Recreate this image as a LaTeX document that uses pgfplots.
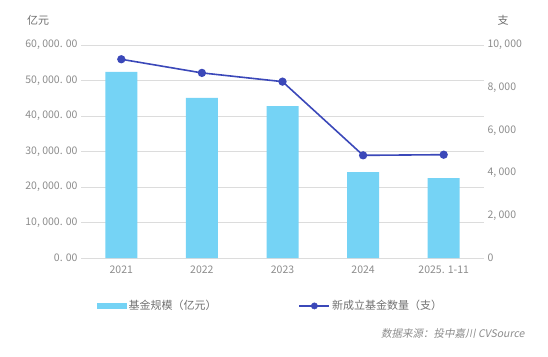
\documentclass[border=0pt]{standalone}
\usepackage{pgfplots}
\pgfplotsset{compat=1.18}
\usepackage{fontspec}
\setmainfont{Noto Sans CJK SC}
\newfontfamily\srcfont[FakeSlant=0.2]{Noto Sans CJK SC}
\definecolor{barblue}{HTML}{75D3F5}
\definecolor{lineblue}{HTML}{3B48B9}
\definecolor{gridgray}{HTML}{DCDCDC}
\definecolor{ticktext}{HTML}{8C8C8C}
\definecolor{legtext}{HTML}{707070}
\begin{document}
\begin{tikzpicture}[x=1pt,y=1pt]
\path[use as bounding box] (0,0) rectangle (548,356);
\begin{axis}[
  at={(81pt,98pt)}, anchor=south west,
  width=403pt, height=213pt, scale only axis,
  xmin=-0.5, xmax=4.5, ymin=0, ymax=60000,
  scaled y ticks=false,
  xtick={0,1,2,3,4},
  xticklabels={2021,2022,2023,2024,{2025. 1-11}},
  ytick={0,10000,20000,30000,40000,50000,60000},
  yticklabels={{0. 00},{10, 000. 00},{20, 000. 00},{30, 000. 00},{40, 000. 00},{50, 000. 00},{60, 000. 00}},
  axis line style={draw=none}, major tick length=0pt,
  ymajorgrids, grid style={gridgray, line width=0.8pt},
  tick label style={font=\fontsize{10.5}{12}\selectfont, text=ticktext},
  xticklabel style={yshift=-4pt},
  legend style={at={(0.47,-0.225)}, anchor=center, draw=none, fill=none,
    legend columns=2, font=\fontsize{11}{13}\selectfont, text=legtext,
    /tikz/every even column/.append style={column sep=80pt}},
]
\addplot[ybar, bar width=32pt, fill=barblue, draw=none,
  legend image code/.code={\fill[barblue] (0pt,-3pt) rectangle (30pt,3pt);}]
  coordinates {(0,52400) (1,45100) (2,42800) (3,24200) (4,22500)};
\addlegendentry{基金规模（亿元）}
\addlegendimage{legend image code/.code={\draw[lineblue, line width=1.6pt] (0pt,0pt) -- (30pt,0pt); \fill[lineblue] (15pt,0pt) circle (3.2pt);}}
\addlegendentry{新成立基金数量（支）}
\end{axis}
\begin{axis}[
  at={(81pt,98pt)}, anchor=south west,
  width=403pt, height=213pt, scale only axis,
  xmin=-0.5, xmax=4.5, ymin=0, ymax=10000,
  scaled y ticks=false,
  axis x line=none, axis y line*=right,
  ytick={0,2000,4000,6000,8000,10000},
  yticklabels={0,{2, 000},{4, 000},{6, 000},{8, 000},{10, 000}},
  axis line style={draw=none}, major tick length=0pt,
  tick label style={font=\fontsize{10.5}{12}\selectfont, text=ticktext},
]
\addplot[lineblue, line width=1.6pt, mark=*, mark size=3.3pt, mark options={fill=lineblue}]
  coordinates {(0,9330) (1,8690) (2,8280) (3,4820) (4,4850)};
\end{axis}
\node[text=legtext, font=\fontsize{11}{13}\selectfont] at (38,336) {亿元};
\node[text=legtext, font=\fontsize{11}{13}\selectfont] at (503,336) {支};
\node[anchor=east, text=ticktext, font=\fontsize{10.5}{12}\selectfont] at (528,22) {\srcfont 数据来源：投中嘉川 CVSource};
\end{tikzpicture}
\end{document}
